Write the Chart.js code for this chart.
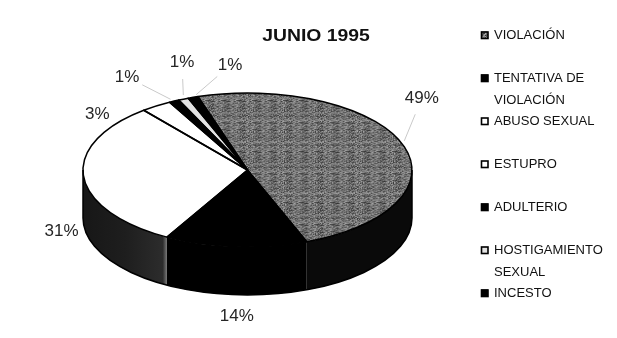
<!DOCTYPE html>
<html>
<head>
<meta charset="utf-8">
<title>JUNIO 1995</title>
<style>
  html, body { margin: 0; padding: 0; background: #ffffff; }
  #wrap { width: 617px; height: 338px; position: relative; }
</style>
<script src="https://cdn.jsdelivr.net/npm/chart.js@4.4.1/dist/chart.umd.min.js"></script>
</head>
<body>
<div id="wrap"><canvas id="c" width="617" height="338"></canvas></div>
<script>
// ---- data ----
const categories = ['VIOLACIÓN', 'TENTATIVA DE VIOLACIÓN', 'ABUSO SEXUAL', 'ESTUPRO', 'ADULTERIO', 'HOSTIGAMIENTO SEXUAL', 'INCESTO'];
const percentages = [49, 14, 31, 3, 1, 1, 1];
const chartTitle = 'JUNIO 1995';

// ---- styles ----
const GRAIN = 'grain';
const topColors = [GRAIN, '#000000', '#ffffff', '#ffffff', '#000000', '#e2e2e2', '#000000'];
// side wall fills: plain colour or gradient stops running from the slice start to its end
const sideColors = [
  '#0a0a0a',
  '#000000',
  [[0, '#7a7a7a'], [0.05, '#2c2c2c'], [0.5, '#1e1e1e'], [1, '#171717']],
  '#262626',
  '#000000',
  '#4a4a4a',
  '#000000'
];

// ---- layout ----
const PIE = { cx: 247.5, cy: 170, rx: 164.5, ry: 77, depth: 48 };
const ROTATION = -17.5;
// label placement relative to the rim point at each slice's middle angle
const labelOffsets = [[19, -46], [1, 70], [-22, 55], [-59, 8], [-47, -24], [-1.5, -37], [37, -32]];
const leaderLines = [true, false, false, false, true, true, true];
const LEGEND = { markX: 481, textX: 494, top: 35, pitch: 43, lineGap: 22, wrapWidth: 112 };

const TAU = Math.PI * 2;

// speckled grey fill used for the largest slice (hash-based grain tile)
function grainPattern(ctx) {
  const N = 16;
  const c = document.createElement('canvas');
  c.width = N; c.height = N;
  const g = c.getContext('2d');
  const img = g.createImageData(N, N);
  for (let y = 0; y < N; y++) {
    for (let x = 0; x < N; x++) {
      let h = (x * 374761393 + y * 668265263) >>> 0;
      h = ((h ^ (h >>> 13)) * 1274126177) >>> 0;
      h = (h ^ (h >>> 16)) % 61;
      const v = Math.round(110 + h * 1.0);
      const k = (y * N + x) * 4;
      img.data[k] = v; img.data[k + 1] = v; img.data[k + 2] = v; img.data[k + 3] = 255;
    }
  }
  g.putImageData(img, 0, 0);
  return ctx.createPattern(c, 'repeat');
}

const canvas = document.getElementById('c');
const grain = grainPattern(canvas.getContext('2d'));
const fills = topColors.map(c => (c === GRAIN ? grain : c));

function rimPoint(t, dy) {
  return [PIE.cx + PIE.rx * Math.cos(t), PIE.cy + (dy || 0) + PIE.ry * Math.sin(t)];
}

function sideFill(ctx, spec, t1, t2) {
  if (typeof spec === 'string') return spec;
  const x1 = rimPoint(t1)[0], x2 = rimPoint(t2)[0];
  const grad = ctx.createLinearGradient(x1, 0, x2, 0);
  spec.forEach(([o, c]) => grad.addColorStop(o, c));
  return grad;
}

function frontRanges(s, e) {
  const s0 = ((s % TAU) + TAU) % TAU;
  const e0 = s0 + (e - s);
  const out = [];
  for (const base of [0, TAU]) {
    const t1 = Math.max(s0, base), t2 = Math.min(e0, base + Math.PI);
    if (t2 > t1) out.push([t1, t2]);
  }
  return out;
}

function wrapText(ctx, text, maxW) {
  const words = text.split(' ');
  const lines = [];
  let cur = '';
  words.forEach(w => {
    const test = cur ? cur + ' ' + w : w;
    if (cur && ctx.measureText(test).width > maxW) { lines.push(cur); cur = w; }
    else cur = test;
  });
  if (cur) lines.push(cur);
  return lines;
}

const pie3d = {
  id: 'pie3d',
  beforeDatasetsDraw(chart) {
    const ctx = chart.ctx;
    const arcs = chart.getDatasetMeta(0).data;
    // extruded side walls on the front half
    arcs.forEach((arc, i) => {
      frontRanges(arc.startAngle, arc.endAngle).forEach(([t1, t2]) => {
        ctx.beginPath();
        ctx.ellipse(PIE.cx, PIE.cy, PIE.rx, PIE.ry, 0, t1, t2, false);
        ctx.ellipse(PIE.cx, PIE.cy + PIE.depth, PIE.rx, PIE.ry, 0, t2, t1, true);
        ctx.closePath();
        ctx.fillStyle = sideFill(ctx, sideColors[i], t1, t2);
        ctx.fill();
      });
    });
    // tilt the pie top into an ellipse
    const a0 = arcs[0];
    ctx.save();
    ctx.translate(PIE.cx, PIE.cy);
    ctx.scale(PIE.rx / a0.outerRadius, PIE.ry / a0.outerRadius);
    ctx.translate(-a0.x, -a0.y);
  },
  afterDatasetsDraw(chart) {
    const ctx = chart.ctx;
    ctx.restore();
    const arcs = chart.getDatasetMeta(0).data;
    const values = chart.data.datasets[0].data;

    // outlines of the top face
    ctx.save();
    ctx.strokeStyle = '#000';
    ctx.lineWidth = 1.5;
    ctx.lineJoin = 'round';
    arcs.forEach(arc => {
      ctx.beginPath();
      ctx.moveTo(PIE.cx, PIE.cy);
      ctx.ellipse(PIE.cx, PIE.cy, PIE.rx, PIE.ry, 0, arc.startAngle, arc.endAngle, false);
      ctx.closePath();
      ctx.stroke();
    });
    // outline of the wall
    ctx.beginPath();
    ctx.moveTo(PIE.cx + PIE.rx, PIE.cy);
    ctx.lineTo(PIE.cx + PIE.rx, PIE.cy + PIE.depth);
    ctx.ellipse(PIE.cx, PIE.cy + PIE.depth, PIE.rx, PIE.ry, 0, 0, Math.PI, false);
    ctx.lineTo(PIE.cx - PIE.rx, PIE.cy);
    ctx.stroke();
    ctx.restore();

    // percentage labels and leader lines
    ctx.save();
    ctx.font = '17px "Liberation Sans", Arial, sans-serif';
    ctx.fillStyle = '#262626';
    ctx.textAlign = 'center';
    ctx.textBaseline = 'middle';
    arcs.forEach((arc, i) => {
      const mid = (arc.startAngle + arc.endAngle) / 2;
      const [rx, ry] = rimPoint(mid);
      const lx = rx + labelOffsets[i][0], ly = ry + labelOffsets[i][1];
      if (leaderLines[i]) {
        const dx = rx - lx, dy = ry - ly, len = Math.hypot(dx, dy);
        const ux = dx / len, uy = dy / len;
        ctx.beginPath();
        ctx.moveTo(lx + ux * 17, ly + uy * 17);
        ctx.lineTo(rx - ux * 4, ry - uy * 4);
        ctx.strokeStyle = '#c9c9c9';
        ctx.lineWidth = 1;
        ctx.stroke();
      }
      ctx.fillText(values[i] + '%', lx, ly);
    });
    ctx.restore();
  },
  afterDraw(chart) {
    const ctx = chart.ctx;
    // title
    ctx.save();
    ctx.translate(316, 36);
    ctx.scale(1.14, 1);
    ctx.font = 'bold 17px "Liberation Sans", Arial, sans-serif';
    ctx.fillStyle = '#111';
    ctx.textAlign = 'center';
    ctx.textBaseline = 'middle';
    ctx.fillText(chartTitle, 0, 0);
    ctx.restore();

    // legend
    ctx.save();
    ctx.font = '13px "Liberation Sans", Arial, sans-serif';
    ctx.textBaseline = 'middle';
    ctx.textAlign = 'left';
    chart.data.labels.forEach((label, i) => {
      const y = LEGEND.top + i * LEGEND.pitch;
      const fill = chart.data.datasets[0].backgroundColor[i];
      ctx.fillStyle = fill;
      ctx.fillRect(LEGEND.markX, y - 3.5, 7, 7);
      ctx.strokeStyle = '#000';
      ctx.lineWidth = 1.6;
      ctx.strokeRect(LEGEND.markX + 0.5, y - 3, 6.5, 6.5);
      ctx.fillStyle = '#111';
      wrapText(ctx, label, LEGEND.wrapWidth).forEach((line, k) => {
        ctx.fillText(line, LEGEND.textX, y + k * LEGEND.lineGap);
      });
    });
    ctx.restore();
  }
};

new Chart(canvas, {
  type: 'pie',
  data: {
    labels: categories,
    datasets: [{
      data: percentages,
      backgroundColor: fills,
      borderWidth: 0,
      hoverOffset: 0,
      clip: false
    }]
  },
  options: {
    responsive: false,
    animation: false,
    events: [],
    rotation: ROTATION,
    layout: { padding: 0 },
    plugins: {
      legend: { display: false },
      title: { display: false },
      tooltip: { enabled: false }
    }
  },
  plugins: [pie3d]
});
</script>
</body>
</html>
